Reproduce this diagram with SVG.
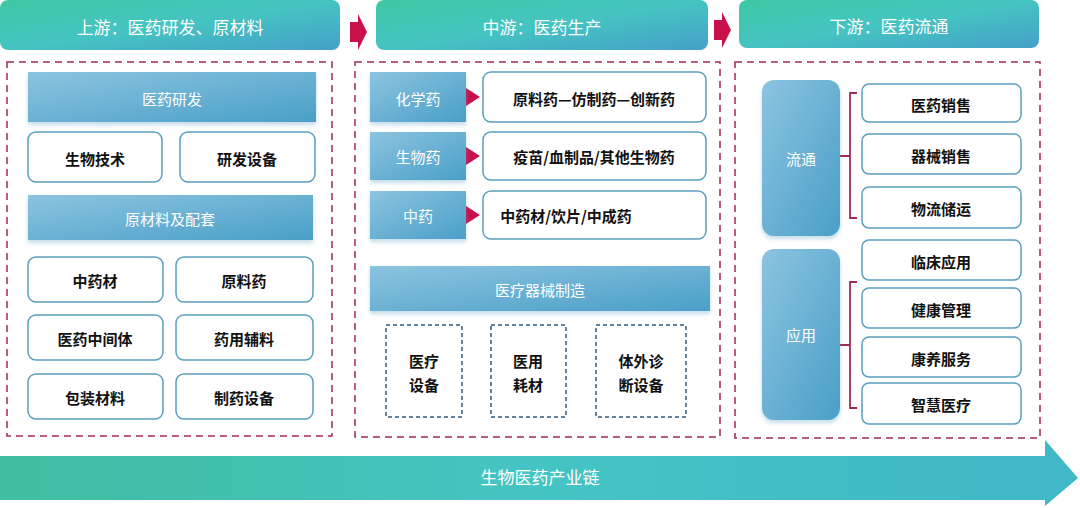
<svg xmlns="http://www.w3.org/2000/svg" width="1080" height="508" viewBox="0 0 1080 508">
<defs>
<linearGradient id="hg" x1="0" y1="0" x2="1" y2="1"><stop offset="0" stop-color="#3fc7a3"/><stop offset="0.5" stop-color="#45c4c2"/><stop offset="1" stop-color="#45a0c8"/></linearGradient>
<linearGradient id="bg" x1="0" y1="0" x2="1" y2="1"><stop offset="0" stop-color="#8cc4e0"/><stop offset="1" stop-color="#4a9fc8"/></linearGradient>
<linearGradient id="ag" x1="0" y1="0" x2="1" y2="0"><stop offset="0" stop-color="#3fbfa0"/><stop offset="0.5" stop-color="#45c4c4"/><stop offset="1" stop-color="#3fb8c8"/></linearGradient>
<filter id="sh" x="-10%" y="-10%" width="120%" height="130%"><feDropShadow dx="0" dy="3" stdDeviation="2" flood-color="#6aa8c8" flood-opacity="0.4"/></filter>
</defs>
<style>
text{font-family:"Noto Sans CJK SC",sans-serif;text-anchor:middle;dominant-baseline:central}
.h{fill:url(#hg)}
.ht{fill:#fff;font-size:17px}
.b{fill:url(#bg);filter:url(#sh)}
.bt{fill:#fff;font-size:15px}
.w{fill:#fff;stroke:#5a9fbf;stroke-width:1.5}
.wt{fill:#111;font-size:15px;font-weight:bold}
.dash{fill:none;stroke:#a0285a;stroke-width:1.5;stroke-dasharray:7,5}
.dd{fill:#fff;stroke:#2f5c80;stroke-width:1.5;stroke-dasharray:4,3}
.ra{fill:#c8104a}
.br{fill:none;stroke:#a0285a;stroke-width:1.8}
</style>
<g id="headers">
<rect class="h" x="0" y="0" width="340" height="50" rx="8"/><text class="ht" x="170" y="26">上游：医药研发、原材料</text>
<rect class="h" x="376" y="0" width="332" height="50" rx="8"/><text class="ht" x="542" y="26">中游：医药生产</text>
<rect class="h" x="739" y="0" width="300" height="48" rx="8"/><text class="ht" x="889" y="25">下游：医药流通</text>
</g>
<g id="connectors">
<path class="ra" d="M350 22 H358 V14 L367 32 L358 50 V42 H350 Z"/>
<path class="ra" d="M714 20 H722 V12 L731 30 L722 48 V40 H714 Z"/>
<path class="ra" d="M466 88 L480 97 L466 106 Z"/>
<path class="ra" d="M466 147 L480 156 L466 165 Z"/>
<path class="ra" d="M466 206 L480 215 L466 224 Z"/>
<path class="br" d="M840 156 H850 M857 93 H850 V218 H857"/>
<path class="br" d="M840 345 H850 M857 282 H850 V408 H857"/>
</g>
<g id="upstream">
<rect class="dash" x="7" y="62" width="325" height="374"/>
<rect class="b" x="28" y="72" width="288" height="50"/><text class="bt" x="172" y="98">医药研发</text>
<rect class="w" x="28" y="132" width="134" height="50" rx="8"/><text class="wt" x="95" y="158">生物技术</text>
<rect class="w" x="180" y="132" width="135" height="50" rx="8"/><text class="wt" x="247" y="158">研发设备</text>
<rect class="b" x="28" y="195" width="285" height="45"/><text class="bt" x="170" y="218">原材料及配套</text>
<rect class="w" x="28" y="257" width="135" height="45" rx="8"/><text class="wt" x="95" y="280">中药材</text>
<rect class="w" x="176" y="257" width="137" height="45" rx="8"/><text class="wt" x="244" y="280">原料药</text>
<rect class="w" x="28" y="315" width="135" height="45" rx="8"/><text class="wt" x="95" y="338">医药中间体</text>
<rect class="w" x="176" y="315" width="137" height="45" rx="8"/><text class="wt" x="244" y="338">药用辅料</text>
<rect class="w" x="28" y="374" width="135" height="45" rx="8"/><text class="wt" x="95" y="397">包装材料</text>
<rect class="w" x="176" y="374" width="137" height="45" rx="8"/><text class="wt" x="244" y="397">制药设备</text>
</g>
<g id="midstream">
<rect class="dash" x="355" y="62" width="365" height="375"/>
<rect class="b" x="370" y="72" width="96" height="50"/><text class="bt" x="418" y="98">化学药</text>
<rect class="b" x="370" y="132" width="96" height="48"/><text class="bt" x="418" y="156">生物药</text>
<rect class="b" x="370" y="191" width="96" height="48"/><text class="bt" x="418" y="215">中药</text>
<rect class="w" x="483" y="72" width="223" height="50" rx="8"/><text class="wt" x="594" y="98">原料药—仿制药—创新药</text>
<rect class="w" x="483" y="132" width="223" height="48" rx="8"/><text class="wt" x="594" y="156">疫苗/血制品/其他生物药</text>
<rect class="w" x="483" y="191" width="223" height="48" rx="8"/><text class="wt" x="566" y="215">中药材/饮片/中成药</text>
<rect class="b" x="370" y="266" width="340" height="45"/><text class="bt" x="540" y="289">医疗器械制造</text>
<rect class="dd" x="386" y="325" width="76" height="92"/><text class="wt" x="424" y="360">医疗</text><text class="wt" x="424" y="384">设备</text>
<rect class="dd" x="491" y="325" width="75" height="92"/><text class="wt" x="528" y="360">医用</text><text class="wt" x="528" y="384">耗材</text>
<rect class="dd" x="596" y="325" width="90" height="92"/><text class="wt" x="641" y="360">体外诊</text><text class="wt" x="641" y="384">断设备</text>
</g>
<g id="downstream">
<rect class="dash" x="735" y="62" width="305" height="376"/>
<rect class="b" x="762" y="80" width="78" height="156" rx="12"/><text class="bt" x="801" y="158">流通</text>
<rect class="b" x="762" y="249" width="78" height="171" rx="12"/><text class="bt" x="801" y="334">应用</text>
<rect class="w" x="862" y="84" width="159" height="38" rx="7"/><text class="wt" x="941" y="104">医药销售</text>
<rect class="w" x="862" y="134" width="159" height="40" rx="7"/><text class="wt" x="941" y="155">器械销售</text>
<rect class="w" x="862" y="187" width="159" height="41" rx="7"/><text class="wt" x="941" y="208">物流储运</text>
<rect class="w" x="862" y="240" width="159" height="40" rx="7"/><text class="wt" x="941" y="261">临床应用</text>
<rect class="w" x="862" y="288" width="159" height="40" rx="7"/><text class="wt" x="941" y="309">健康管理</text>
<rect class="w" x="862" y="337" width="159" height="40" rx="7"/><text class="wt" x="941" y="358">康养服务</text>
<rect class="w" x="862" y="383" width="159" height="41" rx="7"/><text class="wt" x="941" y="404">智慧医疗</text>
</g>
<g id="chain">
<path fill="url(#ag)" d="M0 456 H1045 V440 L1078 478 L1045 506 V500 H0 Z"/>
<text x="540" y="476" style="fill:#fff;font-size:17px">生物医药产业链</text>
</g>
</svg>
